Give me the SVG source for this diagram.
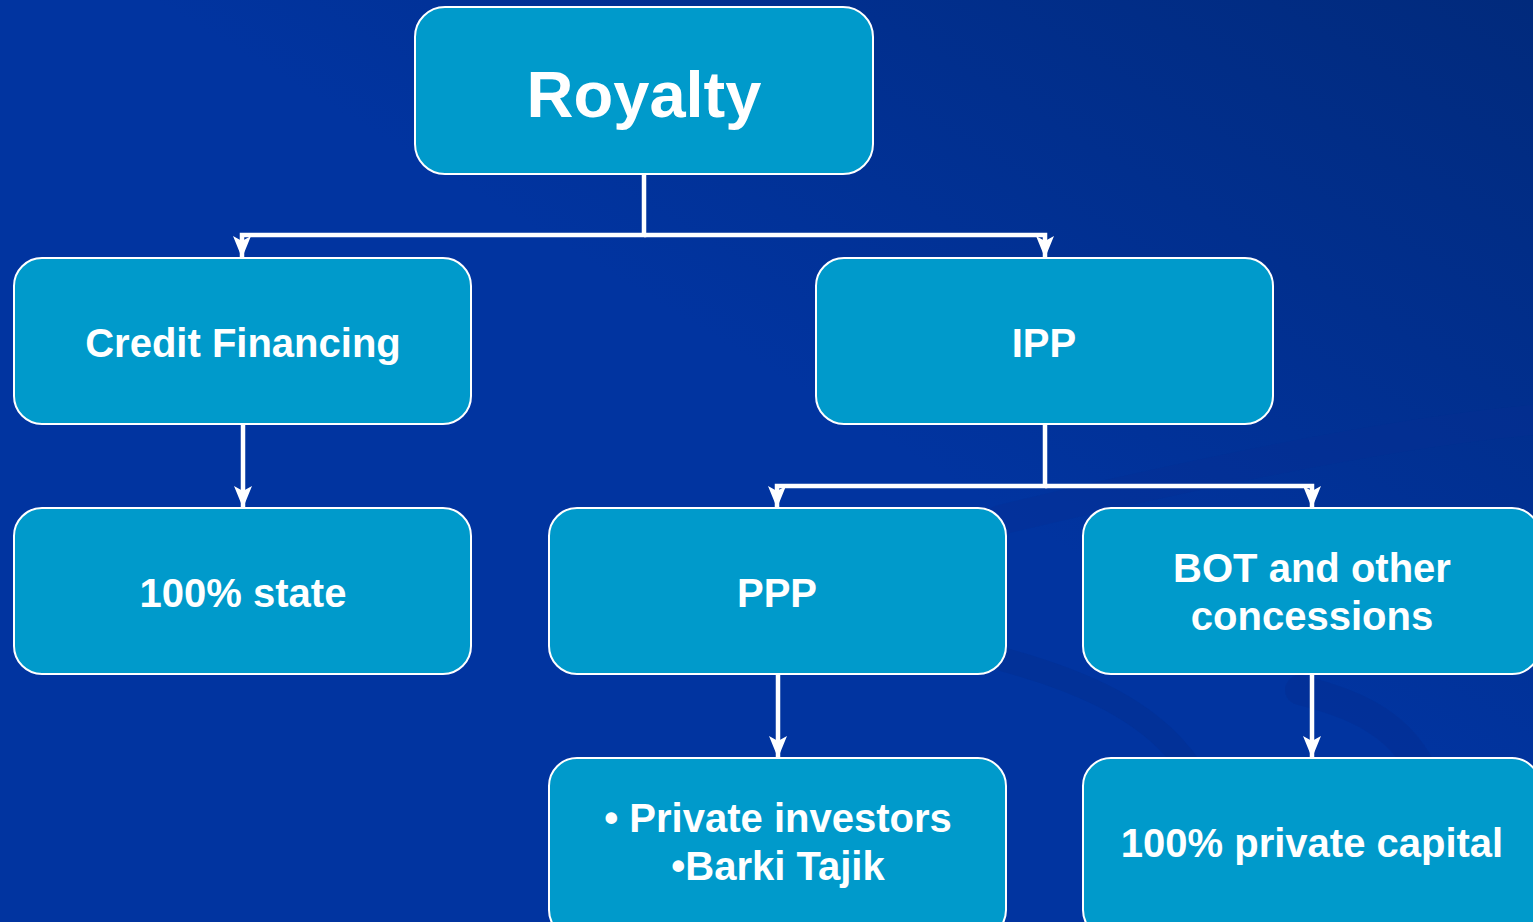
<svg xmlns="http://www.w3.org/2000/svg" width="1533" height="922" viewBox="0 0 1533 922">
<defs>
<linearGradient id="bg" x1="1" y1="0" x2="0.55" y2="0.45">
<stop offset="0" stop-color="#012a7c"/>
<stop offset="1" stop-color="#0134a0"/>
</linearGradient>
<marker id="arr" markerUnits="userSpaceOnUse" markerWidth="24" markerHeight="20" viewBox="0 0 24 20" refX="22" refY="10" orient="auto">
<path d="M0,1 L22,10 L0,19 L5,10 Z" fill="#ffffff"/>
</marker>
<style>
.box{fill:#009acb;stroke:#ffffff;stroke-width:2}
.lbl{font-family:"Liberation Sans",Arial,sans-serif;font-weight:bold;fill:#ffffff;text-anchor:middle}
.con{fill:none;stroke:#ffffff;stroke-width:4.5;stroke-linejoin:miter}
</style>
</defs>
<rect x="0" y="0" width="1533" height="922" fill="url(#bg)"/>
<g id="background-swoosh" fill="none" stroke-linecap="round">
<path d="M1000,520 C1250,460 1420,430 1533,420" stroke="#0a2f92" stroke-width="30" opacity="0.35"/>
<path d="M1005,660 C1150,700 1230,760 1230,922" stroke="#062c8c" stroke-width="24" opacity="0.4"/>
<path d="M1300,690 C1420,720 1440,770 1450,922" stroke="#062c8c" stroke-width="30" opacity="0.35"/>
</g>
<g id="connectors">
<path class="con" d="M644,174 V235 H242 V258" marker-end="url(#arr)"/>
<path class="con" d="M644,235 H1045 V258" marker-end="url(#arr)"/>
<path class="con" d="M243,424 V508" marker-end="url(#arr)"/>
<path class="con" d="M1045,424 V486 H777 V508" marker-end="url(#arr)"/>
<path class="con" d="M1045,486 H1312 V508" marker-end="url(#arr)"/>
<path class="con" d="M778,674 V758" marker-end="url(#arr)"/>
<path class="con" d="M1312,674 V758" marker-end="url(#arr)"/>
</g>
<g id="royalty">
<rect class="box" x="415" y="7" width="458" height="167" rx="30"/>
<text class="lbl" x="644" y="117" font-size="65">Royalty</text>
</g>
<g id="credit-financing">
<rect class="box" x="14" y="258" width="457" height="166" rx="28"/>
<text class="lbl" x="243" y="357" font-size="40">Credit Financing</text>
</g>
<g id="ipp">
<rect class="box" x="816" y="258" width="457" height="166" rx="28"/>
<text class="lbl" x="1044" y="357" font-size="40">IPP</text>
</g>
<g id="state">
<rect class="box" x="14" y="508" width="457" height="166" rx="28"/>
<text class="lbl" x="243" y="607" font-size="40">100% state</text>
</g>
<g id="ppp">
<rect class="box" x="549" y="508" width="457" height="166" rx="28"/>
<text class="lbl" x="777" y="607" font-size="40">PPP</text>
</g>
<g id="bot">
<rect class="box" x="1083" y="508" width="457" height="166" rx="28"/>
<text class="lbl" x="1312" y="582" font-size="40">BOT and other</text>
<text class="lbl" x="1312" y="630" font-size="40">concessions</text>
</g>
<g id="private-investors">
<rect class="box" x="549" y="758" width="457" height="180" rx="28"/>
<text class="lbl" x="778" y="832" font-size="40">• Private investors</text>
<text class="lbl" x="778" y="880" font-size="40">•Barki Tajik</text>
</g>
<g id="private-capital">
<rect class="box" x="1083" y="758" width="457" height="180" rx="28"/>
<text class="lbl" x="1312" y="857" font-size="40">100% private capital</text>
</g>
</svg>
